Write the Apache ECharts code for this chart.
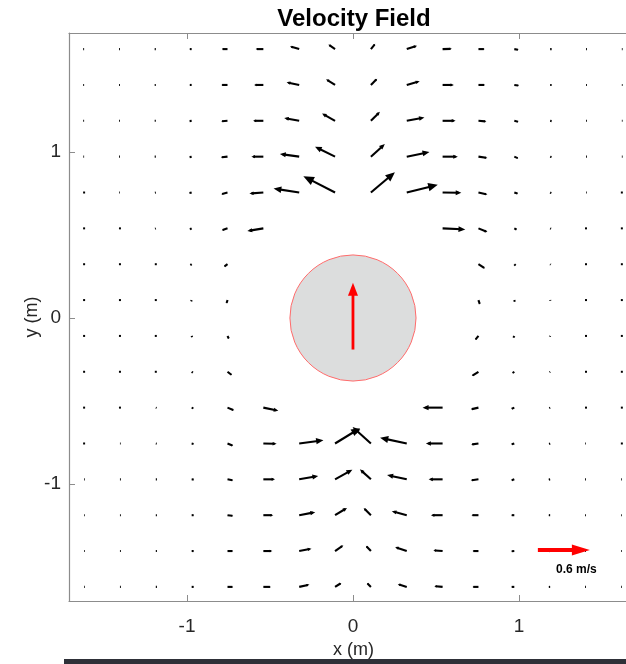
<!DOCTYPE html>
<html>
<head>
<meta charset="utf-8">
<script src="https://cdn.jsdelivr.net/npm/echarts@6/dist/echarts.min.js"></script>
<style>
  html, body { margin: 0; padding: 0; background: #fff; }
  #main { width: 626px; height: 664px; }
</style>
</head>
<body>
<div id="main"></div>
<script>
// grid of the measurement points (m)
var xs = [-1.62, -1.404, -1.188, -0.972, -0.756, -0.54, -0.324, -0.108, 0.108, 0.324, 0.54, 0.756, 0.972, 1.188, 1.404, 1.62];
var ys = [1.62, 1.404, 1.188, 0.972, 0.756, 0.54, 0.324, 0.108, -0.108, -0.324, -0.54, -0.756, -0.972, -1.188, -1.404, -1.62];
var N = null;

// velocity components (m/s), one row per ys, one column per xs
var U = [
  [-0.012,-0.012,-0.015,-0.025,-0.066,-0.089,-0.107,-0.077,0.05,0.119,0.107,0.073,0.05,0.02,0.012,0.01],
  [-0.012,-0.012,-0.015,-0.025,-0.073,-0.107,-0.146,-0.104,0.073,0.15,0.13,0.077,0.054,0.02,0.012,0.01],
  [-0.012,-0.012,-0.015,-0.027,-0.073,-0.119,-0.173,-0.15,0.104,0.204,0.15,0.092,0.05,0.02,0.012,0.01],
  [-0.01,-0.012,-0.015,-0.027,-0.077,-0.138,-0.223,-0.231,0.161,0.262,0.176,0.104,0.046,0.018,0.012,0.01],
  [-0.008,-0.01,-0.012,-0.029,-0.073,-0.161,-0.296,-0.366,0.277,0.358,0.216,0.104,0.043,0.015,0.01,0.008],
  [-0.006,-0.008,-0.01,-0.023,-0.066,-0.185,N,N,N,N,0.262,0.104,0.03,0.012,0.008,0.006],
  [-0.004,-0.005,-0.006,-0.017,-0.04,N,N,N,N,N,N,0.077,0.017,0.008,0.005,0.004],
  [-0.002,-0.002,-0.003,-0.006,-0.012,N,N,N,N,N,N,0.017,0.006,0.003,0.002,0.002],
  [0.002,0.002,0.003,0.006,0.017,N,N,N,N,N,N,-0.038,-0.012,-0.004,-0.002,-0.002],
  [0.004,0.005,0.006,0.017,0.052,N,N,N,N,N,N,-0.077,-0.023,-0.008,-0.005,-0.004],
  [0.006,0.008,0.01,0.023,0.077,0.173,N,N,N,N,-0.231,-0.089,-0.035,-0.012,-0.008,-0.006],
  [0.008,0.01,0.012,0.025,0.066,0.153,0.28,0.288,-0.211,-0.308,-0.193,-0.084,-0.035,-0.015,-0.01,-0.008],
  [0.01,0.012,0.015,0.027,0.066,0.135,0.219,0.2,-0.127,-0.227,-0.161,-0.089,-0.035,-0.018,-0.012,-0.01],
  [0.01,0.012,0.015,0.027,0.066,0.115,0.185,0.138,-0.084,-0.173,-0.135,-0.081,-0.035,-0.018,-0.012,-0.01],
  [0.01,0.012,0.015,0.027,0.066,0.104,0.142,0.096,-0.058,-0.135,-0.107,-0.069,-0.035,-0.018,-0.012,-0.01],
  [0.01,0.012,0.015,0.027,0.066,0.089,0.119,0.073,-0.046,-0.104,-0.096,-0.069,-0.035,-0.018,-0.012,-0.01]
];
var V = [
  [0,0,0,0,0,0,0.031,0.054,0.061,0.038,0.003,0,-0.008,0,0,0],
  [0,0,0,0,0,0,0.031,0.066,0.073,0.043,0,0,-0.008,0,0,0],
  [0,0,0,-0.004,-0.005,0,0.031,0.084,0.104,0.038,0,-0.008,-0.012,-0.004,0,0],
  [0,0,0,-0.006,-0.008,0,0.031,0.115,0.146,0.054,0,-0.015,-0.02,-0.006,0,0],
  [0,0,-0.003,-0.008,-0.02,-0.012,0.046,0.188,0.234,0.089,-0.003,-0.023,-0.015,-0.008,0,0],
  [0,-0.003,-0.004,-0.012,-0.023,-0.031,N,N,N,N,-0.012,-0.043,-0.015,-0.006,-0.003,0],
  [-0.003,-0.004,-0.006,-0.012,-0.029,N,N,N,N,N,N,-0.05,-0.017,-0.006,-0.004,-0.003],
  [-0.005,-0.006,-0.008,-0.017,-0.04,N,N,N,N,N,N,-0.052,-0.023,-0.01,-0.006,-0.005],
  [-0.005,-0.006,-0.008,-0.017,-0.035,N,N,N,N,N,N,-0.046,-0.023,-0.01,-0.006,-0.005],
  [-0.003,-0.004,-0.006,-0.012,-0.04,N,N,N,N,N,N,-0.05,-0.017,-0.006,-0.004,-0.003],
  [0,-0.003,-0.004,-0.01,-0.031,-0.035,N,N,N,N,0,-0.02,-0.015,-0.006,-0.003,0],
  [0,0,-0.003,-0.006,-0.027,-0.003,0.038,0.176,0.19,0.066,0,-0.012,-0.012,-0.006,0,0],
  [0,0,0,-0.004,-0.012,0,0.038,0.112,0.115,0.05,0,-0.012,-0.012,-0.004,0,0],
  [0,0,0,0,-0.008,0,0.035,0.084,0.084,0.046,0,0,0,0,0,0],
  [0,0,0,0,0,0,0.027,0.066,0.061,0.046,0.008,0,-0.003,0,0,0],
  [0,0,0,0,0,0,0.027,0.046,0.046,0.031,0.008,0,0,0,0,0]
];

// cylinder: centre x, centre y, radius (m)
var cylinder = [0, 0, 0.38];
// cylinder velocity arrow: tail x, tail y, u, v (m/s)
var cylArrow = [0, -0.19, 0, 0.77];
// reference arrow: tail x, tail y, u, v (m/s)
var refArrow = [1.114, -1.398, 0.6, 0];
var refLabel = '0.6 m/s';

var S = 0.522; // m of plot per m/s
var xTicks = [-1, 0, 1];
var yTicks = [-1, 0, 1];

var fieldData = [];
for (var j = 0; j < ys.length; j++) {
    for (var i = 0; i < xs.length; i++) {
        if (U[j][i] === null) continue;
        fieldData.push([xs[i], ys[j], U[j][i], V[j][i]]);
    }
}

function arrowShape(p0, p1, color, lw, hl, hw) {
    var dx = p1[0] - p0[0], dy = p1[1] - p0[1];
    var L = Math.sqrt(dx * dx + dy * dy);
    if (L < 0.8) {
        return { type: 'rect', shape: { x: p0[0] - 1, y: p0[1] - 1, width: 2, height: 2 }, style: { fill: color } };
    }
    var ux = dx / L, uy = dy / L;
    var bx = p1[0] - ux * hl, by = p1[1] - uy * hl;
    return {
        type: 'group',
        children: [
            { type: 'line', shape: { x1: p0[0], y1: p0[1], x2: p1[0] - ux * hl * 0.5, y2: p1[1] - uy * hl * 0.5 },
              style: { stroke: color, lineWidth: lw, lineCap: 'butt' } },
            { type: 'polygon', shape: { points: [[p1[0], p1[1]], [bx - uy * hw, by + ux * hw], [bx + uy * hw, by - ux * hw]] },
              style: { fill: color } }
        ]
    };
}

var axisGray = '#8c8c8c';
var font = 'Liberation Sans, Arial, sans-serif';

var option = {
    animation: false,
    title: {
        text: 'Velocity Field',
        left: 349,
        top: 2,
        textAlign: 'center',
        textStyle: { fontSize: 24, fontWeight: 'bold', color: '#000', fontFamily: font }
    },
    grid: { left: 69, right: 0, top: 33, bottom: 63 },
    xAxis: [{
        type: 'value', min: -1.711, max: 1.645, position: 'bottom',
        name: 'x (m)', nameLocation: 'middle', nameGap: 40, nameMoveOverlap: false,
        nameTextStyle: { fontSize: 18, color: '#262626', fontFamily: font, padding: [0, 0, 0, 12] },
        axisLine: { onZero: false, lineStyle: { color: axisGray, width: 1.2 } },
        axisTick: { inside: true, length: 6, customValues: xTicks, lineStyle: { color: axisGray } },
        axisLabel: { customValues: xTicks, fontSize: 19, color: '#262626', margin: 16, fontFamily: font },
        splitLine: { show: false }
    }, {
        type: 'value', min: -1.711, max: 1.645, position: 'top',
        axisLine: { onZero: false, lineStyle: { color: axisGray, width: 1.2 } },
        axisTick: { inside: true, length: 6, customValues: xTicks, lineStyle: { color: axisGray } },
        axisLabel: { show: false },
        splitLine: { show: false }
    }],
    yAxis: [{
        type: 'value', min: -1.705, max: 1.717,
        name: 'y (m)', nameLocation: 'middle', nameGap: 28, nameMoveOverlap: false,
        nameTextStyle: { fontSize: 18, color: '#262626', fontFamily: font },
        axisLine: { show: true, onZero: false, lineStyle: { color: axisGray, width: 1.2 } },
        axisTick: { show: true, inside: true, length: 6, customValues: yTicks, lineStyle: { color: axisGray } },
        axisLabel: { customValues: yTicks, fontSize: 19, color: '#262626', margin: 8, fontFamily: font },
        splitLine: { show: false }
    }],
    series: [{
        type: 'custom',
        clip: true,
        data: [cylinder],
        renderItem: function (params, api) {
            var c = api.coord([api.value(0), api.value(1)]);
            var r = api.size([api.value(2), 0])[0];
            return { type: 'circle', shape: { cx: c[0], cy: c[1], r: r }, style: { fill: '#dcdddd', stroke: '#ff6b6b', lineWidth: 1 } };
        }
    }, {
        type: 'custom',
        clip: true,
        data: fieldData,
        renderItem: function (params, api) {
            var x = api.value(0), y = api.value(1), u = api.value(2), v = api.value(3);
            var p0 = api.coord([x, y]);
            var p1 = api.coord([x + u * S, y + v * S]);
            var L = Math.sqrt(Math.pow(p1[0] - p0[0], 2) + Math.pow(p1[1] - p0[1], 2));
            return arrowShape(p0, p1, '#000', 2.1, Math.min(0.3 * L, 11), Math.min(0.13 * L, 4.5));
        }
    }, {
        type: 'custom',
        clip: true,
        data: [cylArrow],
        renderItem: function (params, api) {
            var x = api.value(0), y = api.value(1);
            var p0 = api.coord([x, y]);
            var p1 = api.coord([x + api.value(2) * S, y + api.value(3) * S]);
            return arrowShape(p0, p1, '#ff0000', 2.8, 13, 5);
        }
    }, {
        type: 'custom',
        clip: false,
        data: [refArrow],
        renderItem: function (params, api) {
            var x = api.value(0), y = api.value(1), u = api.value(2);
            var p0 = api.coord([x, y]);
            var p1 = api.coord([x + u * S, y + api.value(3) * S]);
            var a = arrowShape(p0, p1, '#ff0000', 4, 18, 5.5);
            return {
                type: 'group',
                children: [a, {
                    type: 'text',
                    style: {
                        text: refLabel, x: p0[0] + (p1[0] - p0[0]) * 0.74, y: p0[1] + 20,
                        align: 'center', verticalAlign: 'middle',
                        font: 'bold 12px "Liberation Sans", Arial, sans-serif', fill: '#000'
                    }
                }]
            };
        }
    }],
    graphic: [{
        type: 'rect', left: 64, top: 659, shape: { width: 562, height: 5 }, style: { fill: '#2e3038' }, z: 100
    }]
};

var chart = echarts.init(document.getElementById('main'), null, { renderer: 'canvas' });
chart.setOption(option);
</script>
</body>
</html>
